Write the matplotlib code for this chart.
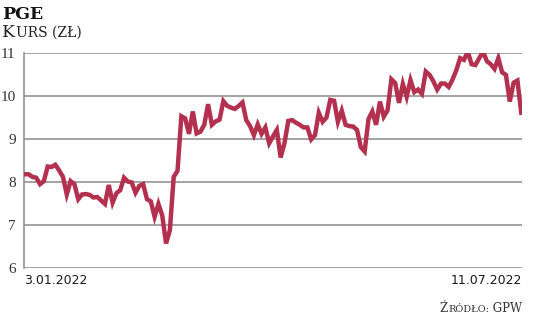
import matplotlib
matplotlib.use("Agg")
import matplotlib.pyplot as plt
from matplotlib import font_manager

prices = [8.18, 8.18, 8.12, 8.10, 7.95, 8.02, 8.36, 8.35, 8.40, 8.27, 8.12, 7.71, 8.02, 7.95, 7.60,
          7.71, 7.72, 7.70, 7.64, 7.65, 7.57, 7.49, 7.93, 7.52, 7.74, 7.81, 8.10, 8.01, 7.99, 7.75,
          7.91, 7.95, 7.60, 7.55, 7.19, 7.49, 7.22, 6.57, 6.88, 8.12, 8.26, 9.53, 9.48, 9.12, 9.64,
          9.13, 9.17, 9.33, 9.81, 9.33, 9.41, 9.45, 9.88, 9.77, 9.73, 9.70, 9.77, 9.85, 9.44, 9.30,
          9.09, 9.34, 9.12, 9.27,
          8.90, 9.06, 9.21, 8.57, 8.90, 9.42, 9.44, 9.38, 9.33, 9.27, 9.27, 8.99, 9.09, 9.61, 9.40,
          9.50, 9.91, 9.89, 9.40, 9.66, 9.33, 9.30, 9.29, 9.21, 8.81, 8.71, 9.46, 9.64, 9.33, 9.87,
          9.52, 9.67, 10.39, 10.30, 9.84, 10.28, 9.98, 10.37, 10.09, 10.15, 10.05, 10.57, 10.49,
          10.34, 10.15, 10.29, 10.29, 10.21, 10.38, 10.60, 10.88, 10.84, 11.03, 10.74, 10.72, 10.88,
          11.03, 10.81, 10.74, 10.63, 10.88, 10.55, 10.49, 9.87, 10.31, 10.36, 9.61]
y_ticks = [6, 7, 8, 9, 10, 11]
x_labels = ["3.01.2022", "11.07.2022"]
title = "PGE"

names = {f.name for f in font_manager.fontManager.ttflist}
narrow = "Liberation Sans Narrow" if "Liberation Sans Narrow" in names else "DejaVu Sans"
narrow_size = 12.5 if narrow == "Liberation Sans Narrow" else 9

W, H = 536, 318
fig = plt.figure(figsize=(W / 100, H / 100), dpi=100)
ax = fig.add_axes([24 / W, 1 - 268 / H, (522 - 24) / W, (268 - 53) / H])

x = list(range(len(prices)))
ax.set_xlim(-0.2, len(prices) - 1 + 0.2)
ax.set_ylim(6, 11)
for t in y_ticks:
    ax.axhline(t, color="#8a8a8a", lw=1.1, zorder=1)
ax.plot(x, prices, color="#b3304f", lw=3.2, solid_joinstyle="miter", zorder=3)

for s in ["top", "right", "bottom"]:
    ax.spines[s].set_visible(False)
ax.spines["left"].set_color("#8a8a8a")
ax.spines["left"].set_linewidth(1.1)
ax.set_xticks([])
ax.set_yticks(y_ticks)
ax.set_yticklabels([str(t) for t in y_ticks], fontsize=11, family="Liberation Serif",
                   color="#333333")
ax.tick_params(axis="y", length=0, pad=6)

grey = "#1a1a1a"
fig.text(24 / W, 1 - 281 / H, x_labels[0], ha="left", va="center", fontsize=narrow_size,
         family=narrow, color=grey)
fig.text(522 / W, 1 - 281 / H, x_labels[1], ha="right", va="center", fontsize=narrow_size,
         family=narrow, color=grey)

fig.text(2 / W, 1 - 19 / H, title, ha="left", va="baseline", fontsize=12.5,
         family="DejaVu Serif", weight="bold", color="#111111")
# small caps emulation for "Kurs (zł)"
t1 = fig.text(2 / W, 1 - 37 / H, "K", ha="left", va="baseline", fontsize=12.5,
              family="DejaVu Serif", color="#222222")
fig.canvas.draw()
bb = t1.get_window_extent()
fig.text((bb.x1 + 0.5) / W, 1 - 37 / H, "URS (ZŁ)", ha="left", va="baseline",
         fontsize=10, family="DejaVu Serif", color="#222222")

# source line: "Źródło: GPW" in small caps
s3 = fig.text(522 / W, 1 - 312 / H, " GPW", ha="right", va="baseline",
              fontsize=8.5, family="DejaVu Serif", color="#333333")
fig.canvas.draw()
b3 = s3.get_window_extent()
s2 = fig.text((b3.x0) / W, 1 - 312 / H, "RÓDŁO:", ha="right", va="baseline",
              fontsize=7, family="DejaVu Serif", color="#333333")
fig.canvas.draw()
b2 = s2.get_window_extent()
fig.text((b2.x0 - 0.3) / W, 1 - 312 / H, "Ź", ha="right", va="baseline",
         fontsize=8.5, family="DejaVu Serif", color="#333333")

fig.savefig("out.png", dpi=100)
